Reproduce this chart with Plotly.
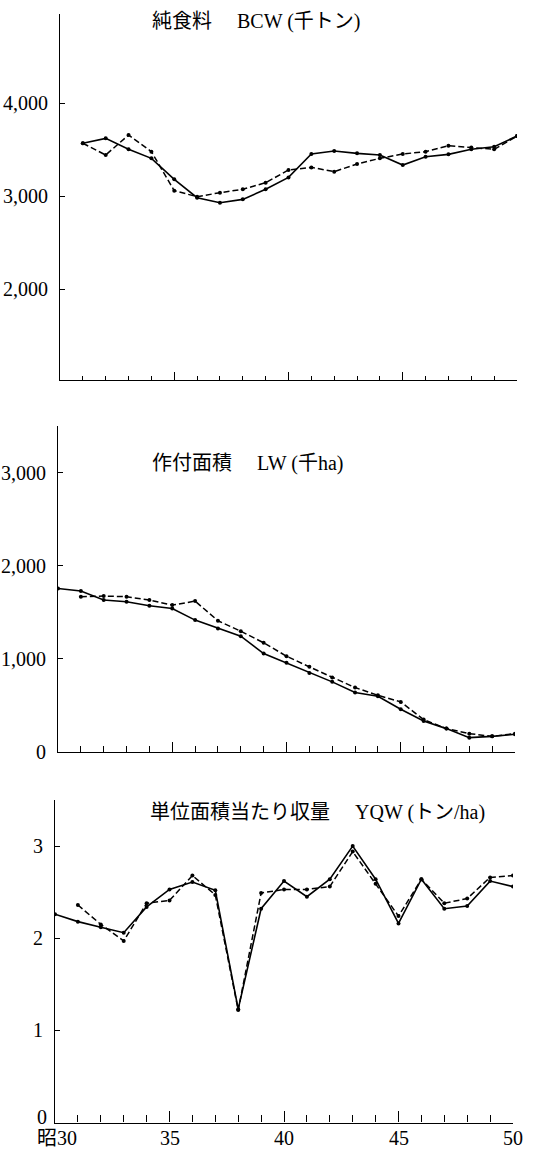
import plotly.graph_objects as go

# ---------------- data ----------------
years_full = list(range(30, 51))
years_31 = list(range(31, 51))

# 純食料 BCW (千トン)
bcw_solid = [3567, 3620, 3502, 3405, 3179, 2982, 2928, 2964, 3072, 3200,
             3452, 3484, 3459, 3441, 3333, 3423, 3448, 3502, 3530, 3645]
bcw_dash = [3567, 3441, 3656, 3477, 3057, 2993, 3036, 3072, 3143, 3280,
            3308, 3262, 3344, 3405, 3452, 3477, 3541, 3523, 3502, 3645]

# 作付面積 LW (千ha)
lw_solid = [1756, 1728, 1631, 1613, 1570, 1541, 1416, 1326, 1244, 1057, 957,
            849, 753, 638, 599, 459, 333, 251, 154, 168, 190]
lw_dash = [1667, 1674, 1667, 1631, 1577, 1620, 1409, 1297, 1172, 1029,
           914, 799, 692, 609, 538, 348, 251, 197, 168, 197]

# 単位面積当たり収量 YQW (トン/ha)
yqw_solid = [2.26, 2.18, 2.12, 2.06, 2.34, 2.53, 2.61, 2.52, 1.23, 2.32, 2.62,
             2.45, 2.64, 3.00, 2.64, 2.16, 2.64, 2.32, 2.35, 2.62, 2.56]
yqw_dash = [2.36, 2.15, 1.97, 2.38, 2.41, 2.68, 2.47, 1.22, 2.49, 2.53,
            2.53, 2.56, 2.94, 2.59, 2.24, 2.64, 2.38, 2.43, 2.66, 2.68]

titles = ["純食料　 BCW (千トン)", "作付面積　 LW (千ha)", "単位面積当たり収量　 YQW (トン/ha)"]
x_tickvals = [30, 35, 40, 45, 50]
x_ticklabels = ["昭30", "35", "40", "45", "50"]

# ---------------- layout helpers ----------------
W, H = 533, 1149
FONT = "Liberation Serif, 'Noto Sans CJK JP', serif"

def xdom(l, r):
    return [l / W, r / W]

def ydom(top, bottom):
    return [1 - bottom / H, 1 - top / H]

fig = go.Figure()

line_solid = dict(color="black", width=1.6)
line_dash = dict(color="black", width=1.5, dash="6px,3px")
mk = dict(color="black", size=4)

panels = [
    (years_31, bcw_solid, years_31, bcw_dash, "x", "y"),
    (years_full, lw_solid, years_31, lw_dash, "x2", "y2"),
    (years_full, yqw_solid, years_31, yqw_dash, "x3", "y3"),
]
for xs, ys, xd, yd, xa, ya in panels:
    fig.add_trace(go.Scatter(x=xs, y=ys, mode="lines+markers", line=line_solid,
                             marker=mk, xaxis=xa, yaxis=ya, showlegend=False))
    fig.add_trace(go.Scatter(x=xd, y=yd, mode="lines+markers", line=line_dash,
                             marker=mk, xaxis=xa, yaxis=ya, showlegend=False))

def xaxis_style(domain, anchor, major_len, minor_len):
    return dict(domain=domain, anchor=anchor, range=[30, 50], showline=True,
                linecolor="black", linewidth=1.2, showgrid=False, zeroline=False,
                ticks="inside", tickcolor="black", ticklen=major_len, tickwidth=1,
                tickmode="array", tickvals=x_tickvals, showticklabels=False,
                minor=dict(dtick=1, tick0=30, ticks="inside", ticklen=minor_len,
                           tickcolor="black", tickwidth=1, showgrid=False),
                automargin=False, fixedrange=True)

def yaxis_style(domain, anchor, rng, vals, texts):
    return dict(domain=domain, anchor=anchor, range=rng, showline=True,
                linecolor="black", linewidth=1.2, showgrid=False, zeroline=False,
                ticks="inside", tickcolor="black", ticklen=5, tickwidth=1,
                tickmode="array", tickvals=vals, ticktext=texts,
                tickfont=dict(family=FONT, size=20, color="black"),
                ticklabelstandoff=7, automargin=False, fixedrange=True)

fig.update_layout(
    width=W, height=H,
    margin=dict(l=0, r=0, t=0, b=0),
    paper_bgcolor="white", plot_bgcolor="white",
    font=dict(family=FONT, color="black"),
    xaxis=xaxis_style(xdom(60, 517), "y", 8, 4),
    yaxis=yaxis_style(ydom(14, 380), "x", [1022, 4957],
                      [2000, 3000, 4000, 4957], ["2,000", "3,000", "4,000", ""]),
    xaxis2=xaxis_style(xdom(58, 515), "y2", 10, 6),
    yaxis2=yaxis_style(ydom(426, 752), "x2", [0, 3500],
                       [0, 1000, 2000, 3000], ["0", "1,000", "2,000", "3,000"]),
    xaxis3=xaxis_style(xdom(55, 513), "y3", 11, 7),
    yaxis3=yaxis_style(ydom(800, 1122.5), "x3", [0, 3.5],
                       [0, 1, 2, 3], ["", "1", "2", "3"]),
)

# "0" of the bottom panel, set slightly above the axis as in the reference
fig.add_annotation(text="0", xref="paper", yref="paper", x=49 / W, y=1 - 1117 / H,
                   xanchor="right", yanchor="middle", showarrow=False,
                   font=dict(family=FONT, size=20, color="black"))

# bottom x tick labels
for v, t in zip(x_tickvals, x_ticklabels):
    fig.add_annotation(text=t, xref="x3", yref="paper", x=v, y=1 - 1138 / H,
                       xanchor="center", yanchor="middle", showarrow=False,
                       xshift=2 if t.startswith("昭") else 0,
                       font=dict(family=FONT, size=20, color="black"))

title_pos = [(150, 22), (150, 463), (148, 812)]
for t, (px, py) in zip(titles, title_pos):
    fig.add_annotation(text=t, xref="paper", yref="paper", x=px / W, y=1 - py / H,
                       xanchor="left", yanchor="middle", showarrow=False,
                       font=dict(family=FONT, size=20, color="black"))

fig.write_html("out.html", config={"displayModeBar": False},
               post_script="document.body.style.margin='0';document.body.style.overflow='hidden';")
